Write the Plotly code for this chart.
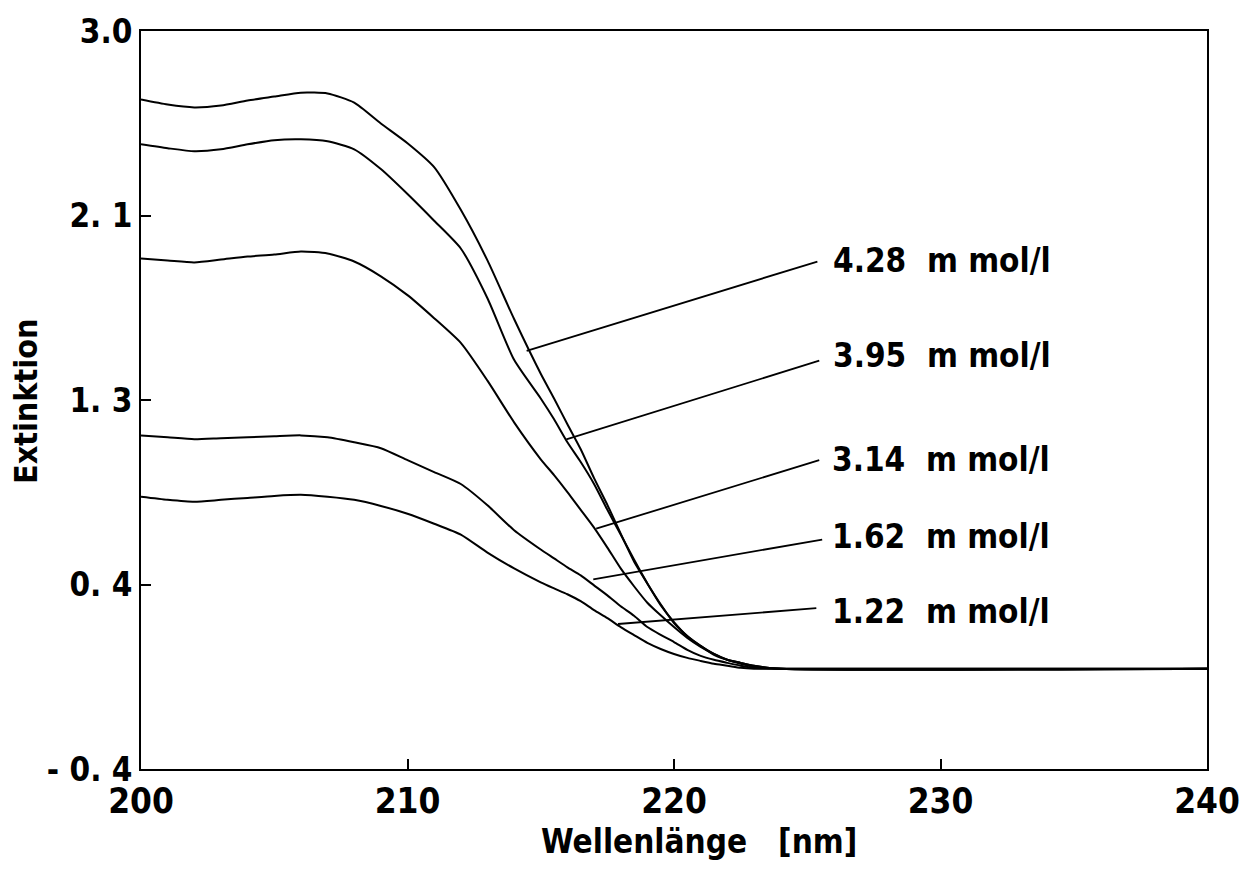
import plotly.graph_objects as go

# Wavelength grid (nm)
wavelength = [200, 201, 202, 203, 204, 205, 206, 207, 208, 209, 210,
              211, 212, 213, 214, 215, 215.5, 216, 216.5, 217, 217.5,
              218, 218.5, 219, 219.5, 220, 220.5, 221, 221.5, 222, 222.5,
              223, 224, 240]

ext_428 = [2.684, 2.661, 2.648, 2.657, 2.680, 2.698, 2.716, 2.712, 2.670, 2.574, 2.483,
           2.373, 2.176, 1.943, 1.673, 1.421, 1.307, 1.188, 1.073, 0.940, 0.817,
           0.684, 0.556, 0.455, 0.355, 0.277, 0.212, 0.167, 0.126, 0.103, 0.089,
           0.076, 0.062, 0.062]
ext_395 = [2.478, 2.460, 2.446, 2.455, 2.478, 2.497, 2.501, 2.492, 2.455, 2.364, 2.249,
           2.126, 1.998, 1.769, 1.485, 1.307, 1.211, 1.105, 1.014, 0.913, 0.794,
           0.680, 0.565, 0.455, 0.359, 0.272, 0.213, 0.167, 0.130, 0.103, 0.089,
           0.076, 0.062, 0.062]
ext_314 = [1.952, 1.943, 1.934, 1.947, 1.961, 1.970, 1.984, 1.975, 1.938, 1.870, 1.783,
           1.677, 1.563, 1.389, 1.197, 1.027, 0.954, 0.876, 0.794, 0.712, 0.620,
           0.524, 0.442, 0.366, 0.308, 0.254, 0.204, 0.163, 0.130, 0.103, 0.085,
           0.071, 0.062, 0.062]
ext_162 = [1.137, 1.128, 1.119, 1.124, 1.128, 1.133, 1.137, 1.128, 1.105, 1.078, 1.023,
           0.968, 0.913, 0.815, 0.700, 0.611, 0.570, 0.529, 0.492, 0.446, 0.400,
           0.350, 0.306, 0.254, 0.218, 0.185, 0.149, 0.121, 0.103, 0.089, 0.076,
           0.066, 0.062, 0.062]
ext_122 = [0.854, 0.840, 0.831, 0.840, 0.849, 0.858, 0.863, 0.854, 0.840, 0.812, 0.776,
           0.730, 0.680, 0.597, 0.524, 0.460, 0.432, 0.405, 0.373, 0.332, 0.295,
           0.254, 0.217, 0.181, 0.153, 0.130, 0.112, 0.098, 0.085, 0.076, 0.066,
           0.062, 0.062, 0.062]

series = [ext_428, ext_395, ext_314, ext_162, ext_122]

# Labels and leader lines
labels = ["4.28\u00a0\u00a0m mol/l", "3.95\u00a0\u00a0m mol/l", "3.14\u00a0\u00a0m mol/l",
          "1.62\u00a0\u00a0m mol/l", "1.22\u00a0\u00a0m mol/l"]
leader_start_x = [214.47, 215.96, 217.08, 216.97, 217.90]
leader_start_y = [1.526, 1.119, 0.707, 0.474, 0.268]
leader_end_x = [225.38, 225.45, 225.45, 225.56, 225.34]
leader_end_y = [1.938, 1.481, 1.023, 0.657, 0.341]
label_x = [225.9, 225.9, 225.85, 225.85, 225.85]
label_y = [1.943, 1.503, 1.027, 0.670, 0.327]

# Axis ticks
x_ticks = [200, 210, 220, 230, 240]
y_tickvals = [-0.4, 0.45, 1.3, 2.15, 3.0]
y_ticktext = ["- 0. 4", "0. 4", "1. 3", "2. 1", "3.0"]

FONT = "DejaVu Sans Condensed, Liberation Sans Narrow, Arial Narrow, sans-serif"

fig = go.Figure()
for ys in series:
    fig.add_trace(go.Scatter(x=wavelength, y=ys, mode="lines",
                             line=dict(color="black", width=2, shape="spline", smoothing=0.6),
                             showlegend=False, hoverinfo="skip"))

for i in range(len(labels)):
    fig.add_trace(go.Scatter(x=[leader_start_x[i], leader_end_x[i]],
                             y=[leader_start_y[i], leader_end_y[i]],
                             mode="lines", line=dict(color="black", width=1.8),
                             showlegend=False, hoverinfo="skip"))
    fig.add_annotation(x=label_x[i], y=label_y[i], text=labels[i], showarrow=False,
                       xanchor="left", yanchor="middle",
                       font=dict(family=FONT, size=33, color="black", weight="bold"))

fig.add_annotation(x=0.5 + 25 / 1075, y=0.0, xref="paper", yref="paper",
                   yshift=-72, text="Wellenlänge\u00a0\u00a0\u00a0[nm]", showarrow=False,
                   xanchor="center", yanchor="middle",
                   font=dict(family=FONT, size=33, color="black", weight="bold"))
fig.add_annotation(x=0, y=0.5 - 2 / 743, xref="paper", yref="paper",
                   xshift=-115, text="Extinktion", textangle=-90, showarrow=False,
                   xanchor="center", yanchor="middle",
                   font=dict(family=FONT, size=32, color="black", weight="bold"))

fig.update_layout(
    width=1252, height=884,
    margin=dict(l=141, r=36, t=26, b=115),
    paper_bgcolor="white", plot_bgcolor="white",
    font=dict(family=FONT, color="black"),
)
fig.update_xaxes(range=[200, 240], tickvals=x_ticks, ticktext=[str(v) for v in x_ticks],
                 ticks="inside", ticklen=10, tickwidth=2, tickcolor="black",
                 showline=True, linewidth=2, linecolor="black", mirror=True,
                 showgrid=False, zeroline=False,
                 tickfont=dict(family=FONT, size=35, color="black", weight="bold"))
fig.update_yaxes(range=[-0.4, 3.0], tickvals=y_tickvals, ticktext=y_ticktext,
                 ticks="inside", ticklen=10, tickwidth=2, tickcolor="black",
                 showline=True, linewidth=2, linecolor="black", mirror=True,
                 showgrid=False, zeroline=False,
                 tickfont=dict(family=FONT, size=33, color="black", weight="bold"))

fig.write_html("out.html")
